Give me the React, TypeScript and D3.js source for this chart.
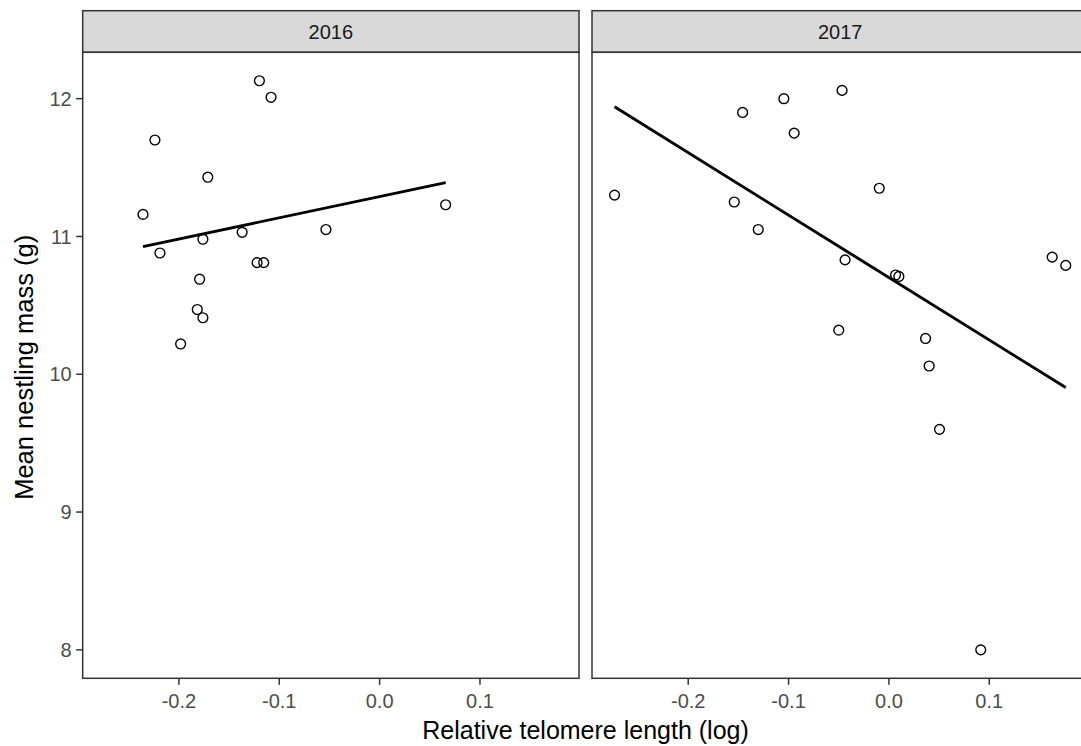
import React from "react";
import * as d3 from "d3";

// ---- data ----
const years = ["2016", "2017"];

const x2016 = [-0.1198, -0.1082, -0.2239, -0.1712, -0.2358, -0.1761, -0.137, -0.0535, -0.2189, -0.1221, -0.1155, -0.1794, -0.1817, -0.1761, -0.1983, 0.0658];
const y2016 = [12.13, 12.01, 11.7, 11.43, 11.16, 10.98, 11.03, 11.05, 10.88, 10.81, 10.81, 10.69, 10.47, 10.41, 10.22, 11.23];

const x2017 = [-0.2734, -0.1458, -0.1047, -0.0944, -0.0467, -0.1541, -0.1302, -0.0096, -0.0437, 0.0066, 0.0099, -0.05, 0.0365, 0.0401, 0.0504, 0.1627, 0.1762, 0.0915];
const y2017 = [11.3, 11.9, 12.0, 11.75, 12.06, 11.25, 11.05, 11.35, 10.83, 10.72, 10.71, 10.32, 10.26, 10.06, 9.6, 10.85, 10.79, 8.0];

const xTicks = [-0.2, -0.1, 0.0, 0.1];
const yTicks = [8, 9, 10, 11, 12];

const xTitle = "Relative telomere length (log)";
const yTitle = "Mean nestling mass (g)";

// ---- layout ----
const W = 1081;
const H = 746;
const panelTop = 52.3;
const panelBottom = 678.3;
const stripTop = 10.7;
const panelLeft0 = 82.7;
const panelWidth = 496.3;
const panelGap = 13;

const FONT = "'Liberation Sans', Arial, Helvetica, sans-serif";

function expand(ext: [number, number], f = 0.05): [number, number] {
  const r = ext[1] - ext[0];
  return [ext[0] - r * f, ext[1] + r * f];
}

function lm(xs: number[], ys: number[]) {
  const mx = d3.mean(xs)!;
  const my = d3.mean(ys)!;
  let sxy = 0, sxx = 0;
  xs.forEach((x, i) => {
    sxy += (x - mx) * (ys[i] - my);
    sxx += (x - mx) * (x - mx);
  });
  const b = sxy / sxx;
  return { a: my - b * mx, b };
}

export default function App() {
  const series = [
    { year: years[0], xs: x2016, ys: y2016 },
    { year: years[1], xs: x2017, ys: y2017 },
  ];
  const allX = [...x2016, ...x2017];
  const allY = [...y2016, ...y2017];
  const xDom = expand(d3.extent(allX) as [number, number]);
  const yDom = expand(d3.extent(allY) as [number, number]);

  const y = d3.scaleLinear().domain(yDom).range([panelBottom, panelTop]);
  const border = "#333333";

  return (
    <svg
      width={W}
      height={H}
      style={{ position: "absolute", left: 0, top: 0, background: "#fff" }}
      fontFamily={FONT}
    >
      <rect x={0} y={0} width={W} height={H} fill="#fff" />
      {series.map((s, pi) => {
        const x0 = panelLeft0 + pi * (panelWidth + panelGap);
        const x = d3.scaleLinear().domain(xDom).range([x0, x0 + panelWidth]);
        const fit = lm(s.xs, s.ys);
        const [mnx, mxx] = d3.extent(s.xs) as [number, number];
        const lineGen = d3
          .line<number>()
          .x((d) => x(d))
          .y((d) => y(fit.a + fit.b * d));
        return (
          <g key={s.year}>
            {/* strip */}
            <rect
              x={x0}
              y={stripTop}
              width={panelWidth}
              height={panelTop - stripTop}
              fill="#D9D9D9"
              stroke={border}
              strokeWidth={1.5}
            />
            <text
              x={x0 + panelWidth / 2}
              y={panelTop - 13}
              textAnchor="middle"
              fontSize={20}
              fill="#1A1A1A"
            >
              {s.year}
            </text>
            {/* panel */}
            <rect
              x={x0}
              y={panelTop}
              width={panelWidth}
              height={panelBottom - panelTop}
              fill="#fff"
              stroke={border}
              strokeWidth={1.5}
            />
            {/* points */}
            {s.xs.map((xv, i) => (
              <circle
                key={i}
                cx={x(xv)}
                cy={y(s.ys[i])}
                r={4.9}
                fill="none"
                stroke="#000"
                strokeWidth={1.4}
              />
            ))}
            {/* fit */}
            <path
              d={lineGen([mnx, mxx]) || ""}
              fill="none"
              stroke="#000"
              strokeWidth={2.9}
            />
            {/* x axis ticks */}
            {xTicks.map((t) => (
              <g key={t} transform={`translate(${x(t)},0)`}>
                <line y1={panelBottom} y2={panelBottom + 6.5} stroke={border} strokeWidth={1.5} />
                <text
                  y={708}
                  textAnchor="middle"
                  fontSize={20}
                  fill="#4D4D4D"
                >
                  {d3.format(".1f")(t).replace("−", "-")}
                </text>
              </g>
            ))}
            {/* y axis only first panel */}
            {pi === 0 &&
              yTicks.map((t) => (
                <g key={t} transform={`translate(0,${y(t)})`}>
                  <line x1={x0 - 6.5} x2={x0} stroke={border} strokeWidth={1.5} />
                  <text
                    x={x0 - 11}
                    dy="0.36em"
                    textAnchor="end"
                    fontSize={20}
                    fill="#4D4D4D"
                  >
                    {t}
                  </text>
                </g>
              ))}
          </g>
        );
      })}
      <text
        x={panelLeft0 + (2 * panelWidth + panelGap) / 2}
        y={739}
        textAnchor="middle"
        fontSize={25}
        fill="#000"
      >
        {xTitle}
      </text>
      <text
        transform={`translate(33,${(panelTop + panelBottom) / 2 + 2}) rotate(-90)`}
        textAnchor="middle"
        fontSize={25.5}
        fill="#000"
      >
        {yTitle}
      </text>
    </svg>
  );
}
